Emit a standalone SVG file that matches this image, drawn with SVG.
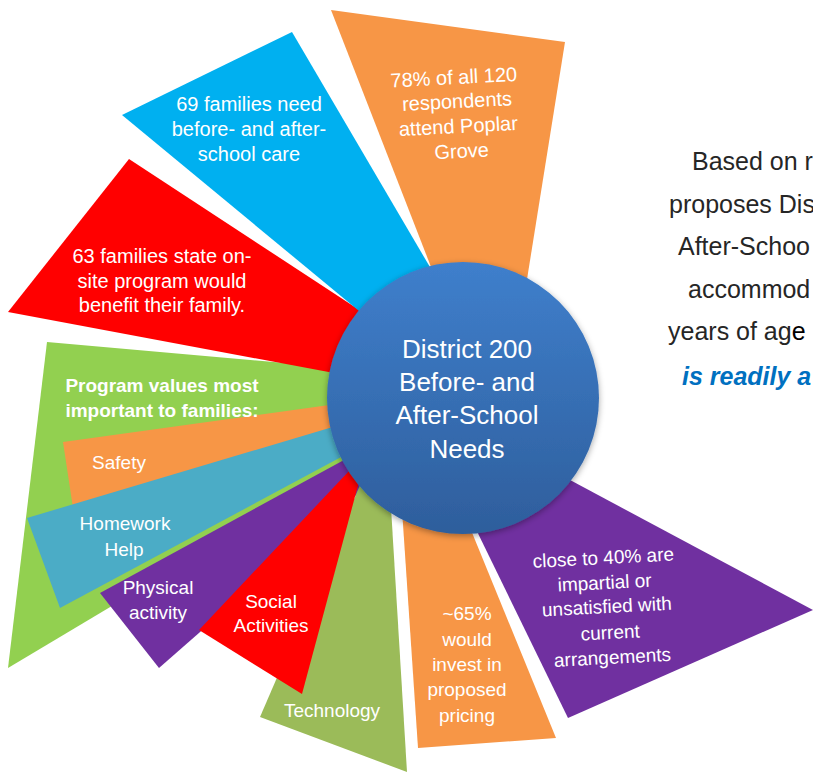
<svg xmlns="http://www.w3.org/2000/svg" width="813" height="773" viewBox="0 0 813 773">
<defs>
<linearGradient id="cg" x1="0" y1="0" x2="0" y2="1">
<stop offset="0" stop-color="#3F7FCC"/>
<stop offset="1" stop-color="#2E5E9C"/>
</linearGradient>
<filter id="sh" x="-20%" y="-20%" width="140%" height="140%">
<feDropShadow dx="0" dy="2" stdDeviation="3" flood-color="#000" flood-opacity="0.35"/>
</filter>
<style>
text{font-family:"Liberation Sans",Arial,sans-serif;fill:#fff;text-anchor:middle}
.w{font-size:20px}
.s{font-size:19px}
.b{font-weight:bold}
.c{font-size:26px}
.r{font-size:25px;fill:#262626;text-anchor:start}
.ri{font-size:25px;fill:#0070C0;font-weight:bold;font-style:italic;text-anchor:start}
</style>
</defs>
<rect width="813" height="773" fill="#fff"/>
<g id="wedge-values">
<polygon points="47,342 8,668 440,410 443,377" fill="#92D050"/>
</g>
<g id="wedge-safety">
<polygon points="63,442 73,508 440,412 437,390" fill="#F79646"/>
<text class="s" x="119" y="469">Safety</text>
</g>
<g id="wedge-values-label">
<text class="s b" x="162" y="392">Program values most</text>
<text class="s b" x="162" y="417">important to families:</text>
</g>
<g id="wedge-physical">
<polygon points="100,593 159,668 442,420 445,405" fill="#7030A0"/>
<text class="s" x="158" y="594">Physical</text>
<text class="s" x="158" y="619">activity</text>
</g>
<g id="wedge-homework">
<polygon points="27,518 60,608 440,404 440,395" fill="#4BACC6"/>
<text class="s" x="125" y="530">Homework</text>
<text class="s" x="124" y="556">Help</text>
</g>
<g id="wedge-technology">
<polygon points="260,717 407,772 386,425" fill="#9BBB59"/>
<text class="s" x="332" y="717">Technology</text>
</g>
<g id="wedge-social">
<polygon points="199,630 302,694 367,452" fill="#FF0000"/>
<text class="s" x="271" y="608">Social</text>
<text class="s" x="271" y="632">Activities</text>
</g>
<g id="wedge-onsite">
<polygon points="129,159 8,312 414,388 425,353" fill="#FF0000"/>
<text class="w" x="162" y="263">63 families state on-</text>
<text class="w" x="162" y="288">site program would</text>
<text class="w" x="162" y="312">benefit their family.</text>
</g>
<g id="wedge-need">
<polygon points="292,32 122,115 405,349 471,337" fill="#00B0F0"/>
<text class="w" x="249" y="111">69 families need</text>
<text class="w" x="249" y="136">before- and after-</text>
<text class="w" x="249" y="161">school care</text>
</g>
<g id="wedge-poplar">
<polygon points="331,10 565,42 508,398 482,398" fill="#F79646"/>
<g transform="rotate(-3 458 120)">
<text class="w" x="456" y="84">78% of all 120</text>
<text class="w" x="458" y="108">respondents</text>
<text class="w" x="458" y="133">attend Poplar</text>
<text class="w" x="460" y="158">Grove</text>
</g>
</g>
<g id="wedge-pricing">
<polygon points="418,748 556,738 426,420 396,420" fill="#F79646"/>
<text class="s" x="467" y="620">~65%</text>
<text class="s" x="467" y="646">would</text>
<text class="s" x="467" y="671">invest in</text>
<text class="s" x="467" y="696">proposed</text>
<text class="s" x="467" y="722">pricing</text>
</g>
<g id="wedge-unsatisfied">
<polygon points="568,718 813,610 484,434 450,476" fill="#7030A0"/>
<g transform="rotate(-3 608 610)">
<text class="s" x="606" y="564">close to 40% are</text>
<text class="s" x="606" y="589">impartial or</text>
<text class="s" x="607" y="613">unsatisfied with</text>
<text class="s" x="609" y="639">current</text>
<text class="s" x="610" y="664">arrangements</text>
</g>
</g>
<g id="center">
<circle cx="463" cy="398" r="136" fill="url(#cg)" filter="url(#sh)"/>
<text class="c" x="467" y="358">District 200</text>
<text class="c" x="467" y="391">Before- and</text>
<text class="c" x="467" y="424">After-School</text>
<text class="c" x="467" y="458">Needs</text>
</g>
<g id="side-text">
<text class="r" x="692" y="170">Based on r</text>
<text class="r" x="669" y="213">proposes Dis</text>
<text class="r" x="678" y="255">After-Schoo</text>
<text class="r" x="688" y="298">accommod</text>
<text class="r" x="668" y="340">years of ag<tspan fill="#000">e</tspan></text>
<text class="ri" x="682" y="385">is readily a</text>
</g>
<g id="connectors"/>
</svg>
